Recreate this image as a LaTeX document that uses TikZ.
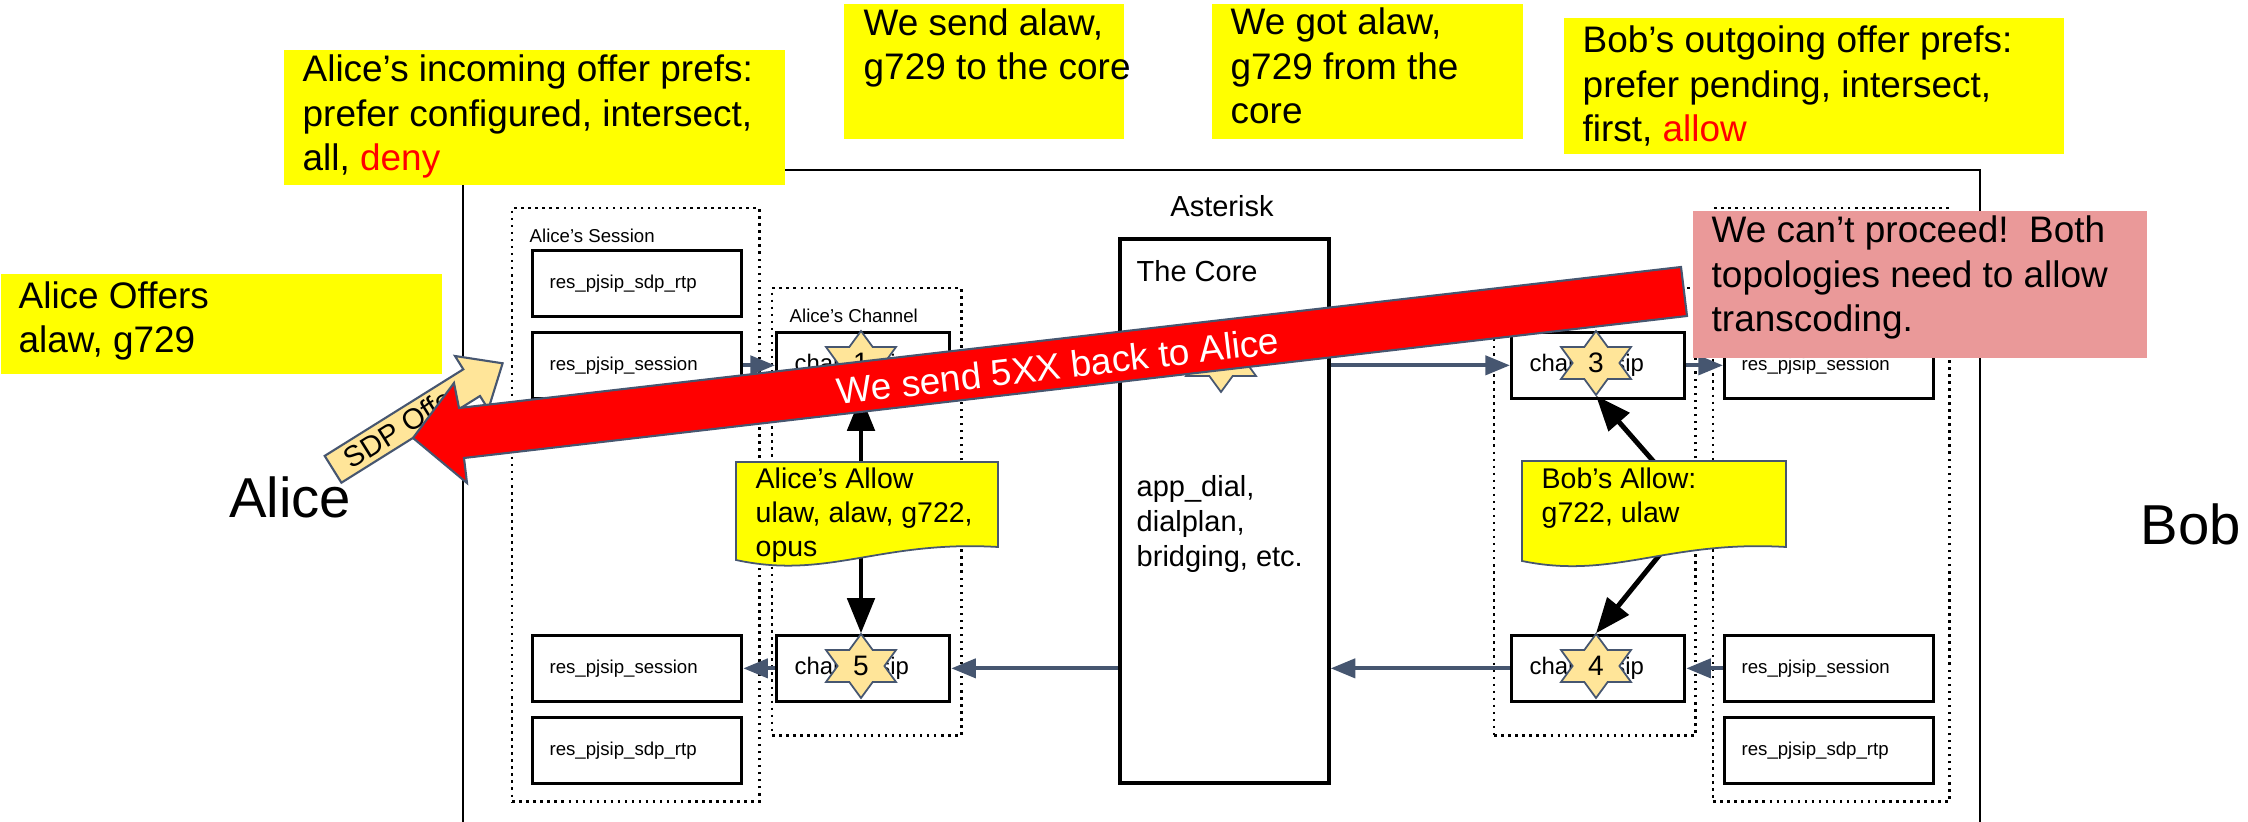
\documentclass[tikz,border=0pt]{standalone}
\usepackage{fontspec}
\setmainfont{Liberation Sans}
\usetikzlibrary{arrows.meta}
\definecolor{slate}{RGB}{70,86,112}
\definecolor{notey}{RGB}{255,255,0}
\definecolor{pinkbox}{RGB}{234,153,153}
\definecolor{startan}{RGB}{255,229,153}
\newcommand\myBig{\fontsize{10.5pt}{12.66pt}\selectfont}
\newcommand\myCore{\fontsize{8.25pt}{9.96pt}\selectfont}
\newcommand\myNote{\fontsize{8.1pt}{9.8pt}\selectfont}
\newcommand\mySmall{\fontsize{5.3pt}{6.4pt}\selectfont}
\newcommand\myChan{\fontsize{6.8pt}{8pt}\selectfont}
\newcommand\myStar{\fontsize{8pt}{9.6pt}\selectfont}
\newcommand\myName{\fontsize{16pt}{19pt}\selectfont}
\newcommand\hexstar[3]{%
  \begin{scope}[shift={#2}]
    \draw[starstyle] (0,-32) -- (11.7,-16) -- (35,-16) -- (23.4,0) -- (35,16) -- (11.7,16) -- (0,32) -- (-11.7,16) -- (-35,16) -- (-23.4,0) -- (-35,-16) -- (-11.7,-16) -- cycle;
  \end{scope}
  \node[starnum] (#1) at #2 {#3};
}
\begin{document}
\begin{tikzpicture}[x=0.01cm, y=-0.01cm,
  dotbox/.style={draw, line width=0.7pt, dash pattern=on 0.7pt off 1.3pt, anchor=north west, inner sep=0},
  modbox/.style={draw, line width=0.9pt, anchor=north west, inner ysep=0, inner xsep=0.17cm, text width=1.75cm, align=left, font=\mySmall, minimum height=0.655cm},
  chanbox/.style={draw, line width=0.9pt, anchor=north west, inner ysep=0, inner xsep=0.18cm, text width=1.37cm, align=left, font=\myChan, minimum height=0.655cm},
  txt/.style={inner sep=0, anchor=base west, align=left},
  ynote/.style={fill=notey, anchor=north west, inner sep=0},
  flowarrow/.style={draw=slate, line width=1.15pt, -{Triangle[length=7pt,width=5.4pt]}},
  allowarrow/.style={line width=1.4pt, {Triangle[length=10pt,width=7.7pt]}-{Triangle[length=10pt,width=7.7pt]}},
  allowhead/.style={line width=1.4pt, -{Triangle[length=10pt,width=7.7pt]}},
  starstyle/.style={fill=startan, draw=slate, line width=0.5pt},
  starnum/.style={inner sep=0, minimum width=0.7cm, minimum height=0.64cm, font=\myStar},
  notebox/.style={fill=notey, draw=slate, line width=0.5pt},
]
\useasboundingbox (0,0) rectangle (2248,822);

% Asterisk outer box (open at the bottom)
\draw[line width=0.7pt] (463,822) -- (463,170) -- (1980,170) -- (1980,822);
\node[inner sep=0, anchor=base, font=\myCore] (asterisk) at (1222,217) {Asterisk};

% dotted groups
\node[dotbox, minimum width=2.47cm, minimum height=5.93cm] (aliceSess) at (511,207) {};
\node[dotbox, minimum width=1.89cm, minimum height=4.47cm] (aliceChan) at (771,287) {};
\node[dotbox, minimum width=2.01cm, minimum height=4.47cm] (bobChan) at (1493,287) {};
\node[dotbox, minimum width=2.36cm, minimum height=5.93cm] (bobSess) at (1712,207) {};
\node[txt, font=\mySmall] (aliceSessLbl) at (529,243) {Alice’s Session};
\node[txt, font=\mySmall] (aliceChanLbl) at (789,323) {Alice’s Channel};

% modules
\node[modbox] (aS1) at (531,249) {res\_pjsip\_sdp\_rtp};
\node[modbox] (aS2) at (531,331) {res\_pjsip\_session};
\node[modbox] (aS3) at (531,634) {res\_pjsip\_session};
\node[modbox] (aS4) at (531,716) {res\_pjsip\_sdp\_rtp};
\node[chanbox] (c1) at (775,331) {chan\_pjsip};
\node[chanbox] (c5) at (775,634) {chan\_pjsip};
\node[chanbox] (c3) at (1510,331) {chan\_pjsip};
\node[chanbox] (c4) at (1510,634) {chan\_pjsip};
\node[modbox] (bS1) at (1723,331) {res\_pjsip\_session};
\node[modbox] (bS2) at (1723,634) {res\_pjsip\_session};
\node[modbox] (bS3) at (1723,716) {res\_pjsip\_sdp\_rtp};

% core
\node[draw, line width=1pt, anchor=north west, minimum width=2.09cm, minimum height=5.44cm, inner sep=0] (core) at (1118,237) {};
\node[txt, font=\myCore] (coreTitle) at (1136,282) {The Core};
\node[txt, font=\myCore] (coreBody) at (1136,567) {app\_dial,\\dialplan,\\bridging, etc.};

% signalling flow
\draw[flowarrow] (aS2.east) -- (c1.west);
\draw[flowarrow] (c1.east) -- (c1.east -| core.west);
\draw[flowarrow] (core.east |- c3.west) -- (c3.west);
\draw[flowarrow] (c3.east) -- (bS1.west);
\draw[flowarrow] (bS2.west) -- (c4.east);
\draw[flowarrow] (c4.west) -- (c4.west -| core.east);
\draw[flowarrow] (c5.east -| core.west) -- (c5.east);
\draw[flowarrow] (c5.west) -- (aS3.east);

% stars
\hexstar{s1}{(861,363)}{1}
\hexstar{s2}{(1221,360)}{2}
\hexstar{s3}{(1596,363)}{3}
\hexstar{s4}{(1596,666)}{4}
\hexstar{s5}{(861,666)}{5}

% allow arrows
\draw[allowarrow] (s1.south) -- (s5.north);
\coordinate (bobBend) at (1696,510);
\draw[allowhead] (bobBend) -- (s3.south);
\draw[allowhead] (bobBend) -- (s4.north);

% allow notes
\draw[notebox] (736,462) -- (998,462) -- (998,547) .. controls (880,540) and (828,580) .. (736,560) -- cycle;
\node[txt, font=\myNote] (aliceAllow) at (755,557) {Alice’s Allow\\ulaw, alaw, g722,\\opus};
\draw[notebox] (1522,461) -- (1786,461) -- (1786,547) .. controls (1667,540) and (1614,580) .. (1522,561) -- cycle;
\node[txt, font=\myNote] (bobAllow) at (1541,523) {Bob’s Allow:\\g722, ulaw};

% top notes
\node[ynote, minimum width=5.01cm, minimum height=1.35cm] (incoming) at (283,49) {};
\node[txt, font=\myBig] (incomingTxt) at (302,171) {Alice’s incoming offer prefs:\\prefer configured, intersect,\\all, \textcolor{red}{deny}};
\node[ynote, minimum width=2.80cm, minimum height=1.35cm] (weSend) at (843,3) {};
\node[txt, font=\myBig] (weSendTxt) at (863,80) {We send alaw,\\g729 to the core};
\node[ynote, minimum width=3.11cm, minimum height=1.35cm] (weGot) at (1211,3) {};
\node[txt, font=\myBig] (weGotTxt) at (1230,124) {We got alaw,\\g729 from the\\core};
\node[ynote, minimum width=5.00cm, minimum height=1.36cm] (bobOut) at (1563,17) {};
\node[txt, font=\myBig] (bobOutTxt) at (1582,142) {Bob’s outgoing offer prefs:\\prefer pending, intersect,\\first, \textcolor{red}{allow}};
\node[ynote, minimum width=4.41cm, minimum height=1.00cm] (offers) at (0,273) {};
\node[txt, font=\myBig] (offersTxt) at (18,353) {Alice Offers\\alaw, g729};

% endpoints
\node[inner sep=0, anchor=base, font=\myName] (alice) at (290,518) {Alice};
\node[inner sep=0, anchor=base, font=\myName] (bob) at (2191,545) {Bob};

% SDP offer arrow
\draw[fill=startan, draw=slate, line width=0.6pt] (502.6,363.3) -- (455,356) -- (463.3,369.3) -- (324.7,455.9) -- (341.4,482.7) -- (480,396) -- (488.3,409.3) -- cycle;
\node[inner sep=0, font=\myCore, rotate=32] (sdpTxt) at (402.3,426) {SDP Offer};

% 5XX arrow
\draw[fill=red, draw=slate, line width=0.6pt] (413,438) -- (454,383) -- (459,408) -- (1681,267) -- (1687,316) -- (464,458) -- (467,483) -- cycle;
\node[inner sep=0, font=\myBig, text=white, rotate=6.6] (sendTxt) at (1058,366) {We send 5XX back to Alice};

% failure note
\node[fill=pinkbox, anchor=north west, inner sep=0, minimum width=4.54cm, minimum height=1.47cm] (fail) at (1692,210) {};
\node[txt, font=\myBig] (failTxt) at (1711,332) {We can’t proceed!\ \ Both\\topologies need to allow\\transcoding.};
\end{tikzpicture}
\end{document}
